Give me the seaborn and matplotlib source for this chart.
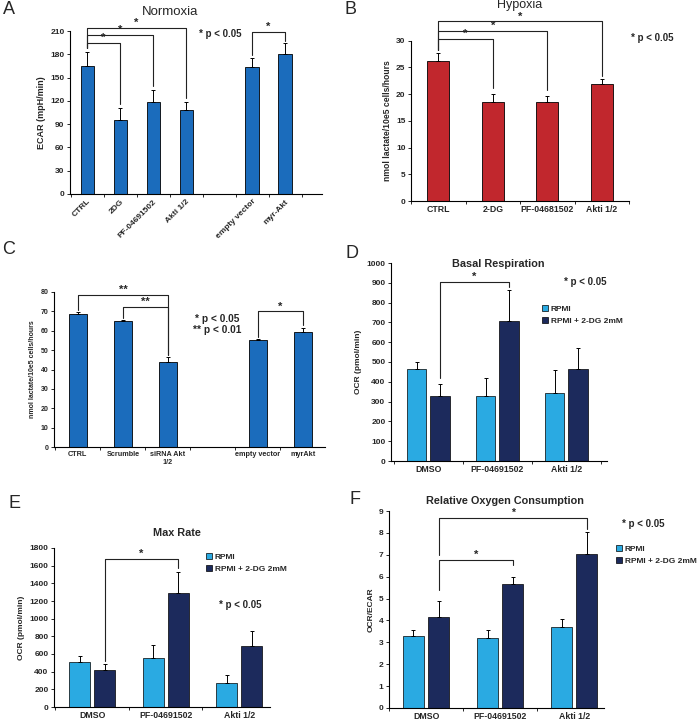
import numpy as np
import pandas as pd
import matplotlib
matplotlib.use("Agg")
import matplotlib.pyplot as plt
import matplotlib.patches as mpatches
import seaborn as sns

# ---------------- data ----------------
a_cats = ["CTRL", "2DG", "PF-04691502", "Akti 1/2", "empty vector", "myr-Akt"]
a_vals = [165, 95, 118, 108, 163, 180]
a_err = [18, 16, 16, 11, 12, 15]

b_cats = ["CTRL", "2-DG", "PF-04681502", "Akti 1/2"]
b_vals = [26.2, 18.5, 18.6, 21.9]
b_err = [1.5, 1.5, 1.0, 1.0]

c_cats = ["CTRL", "Scrumble", "siRNA Akt\n1/2", "empty vector", "myrAkt"]
c_vals = [68.8, 64.8, 44.0, 55.2, 59.2]
c_err = [0.7, 0.5, 2.3, 0.4, 2.1]

grp_cats = ["DMSO", "PF-04691502", "Akti 1/2"]
media = ["RPMI", "RPMI + 2-DG 2mM"]

d_rpmi = [465, 327, 343]
d_rpmi_err = [35, 93, 115]
d_2dg = [330, 705, 465]
d_2dg_err = [58, 160, 107]

e_rpmi = [505, 560, 275]
e_rpmi_err = [75, 140, 90]
e_2dg = [420, 1290, 695]
e_2dg_err = [70, 240, 165]

f_rpmi = [3.30, 3.22, 3.72]
f_rpmi_err = [0.27, 0.35, 0.33]
f_2dg = [4.15, 5.65, 7.02]
f_2dg_err = [0.72, 0.33, 1.03]

# ---------------- style ----------------
sns.set_style("ticks")
plt.rcParams["font.family"] = ["Liberation Sans", "DejaVu Sans"]
plt.rcParams["font.weight"] = "bold"
plt.rcParams["axes.labelweight"] = "bold"

BLUE = "#1b6cbc"
RED = "#c1272d"
LIGHT = "#2aaae2"
DARK = "#1c2a5c"

W, H = 700, 728
fig = plt.figure(figsize=(7, 7.28), dpi=100)


def ax_at(x0, x1, ytop, ybot):
    return fig.add_axes([x0 / W, 1 - ybot / H, (x1 - x0) / W, (ybot - ytop) / H])


def ftext(x, y, s, **kw):
    fig.text(x / W, 1 - y / H, s, **kw)


def style(ax, xlim, ylim, yticks, ylabel, ylab_fs=6, ytick_fs=6, xtick_fs=6):
    sns.despine(ax=ax)
    for s in ["left", "bottom"]:
        ax.spines[s].set_linewidth(0.8)
        ax.spines[s].set_color("black")
    ax.set_xlim(*xlim)
    ax.set_ylim(*ylim)
    ax.set_yticks(yticks)
    ax.tick_params(axis="y", length=2.5, width=0.7, labelsize=ytick_fs, pad=1.5)
    ax.tick_params(axis="x", which="major", length=0, labelsize=xtick_fs, pad=3)
    bnds = np.arange(np.ceil(xlim[0] - 0.5) + 0.5, xlim[1] + 0.01, 1.0)
    ax.set_xticks(bnds, minor=True)
    ax.tick_params(axis="x", which="minor", length=2.5, width=0.7)
    ax.set_xlabel("")
    ax.set_ylabel(ylabel, fontsize=ylab_fs, fontweight="bold", labelpad=3)
    for t in ax.get_xticklabels() + ax.get_yticklabels():
        t.set_fontweight("bold")


def simple_panel(ax, cats, vals, errs, order, color):
    df = pd.DataFrame({"cat": cats, "val": vals})
    sns.barplot(data=df, x="cat", y="val", order=order, color=color, width=0.4,
                edgecolor="black", linewidth=0.6, errorbar=None, saturation=1, ax=ax)
    xs = [order.index(c) for c in cats]
    ax.errorbar(xs, vals, yerr=[np.zeros(len(vals)), errs], fmt="none", ecolor="black",
                elinewidth=0.7, capsize=1.5, capthick=0.7)
    return xs


def group_panel(ax, v1, e1, v2, e2):
    df = pd.DataFrame({"cat": grp_cats * 2,
                       "medium": [media[0]] * 3 + [media[1]] * 3,
                       "val": v1 + v2})
    sns.barplot(data=df, x="cat", y="val", hue="medium", order=grp_cats, hue_order=media,
                palette=[LIGHT, DARK], width=0.68, gap=0.17, edgecolor="black",
                linewidth=0.5, errorbar=None, saturation=1, legend=False, ax=ax)
    pos = {}
    for h, (cont, vals, errs) in enumerate(zip(ax.containers, [v1, v2], [e1, e2])):
        xs = {}
        for bar in cont:
            cx = bar.get_x() + bar.get_width() / 2
            xs[int(round(cx))] = cx
        xl = [xs[i] for i in range(len(vals))]
        ax.errorbar(xl, vals, yerr=[np.zeros(len(vals)), errs], fmt="none", ecolor="black",
                    elinewidth=0.7, capsize=1.5, capthick=0.7)
        for i in range(len(vals)):
            pos[(h, i)] = xl[i]
    return pos


def bracket(ax, x1, x2, y, y1end, y2end, star="*", sx=None, fs=8, color="#222222"):
    ax.plot([x1, x1, x2, x2], [y1end, y, y, y2end], color=color, lw=0.8, clip_on=False)
    if sx is None:
        sx = (x1 + x2) / 2
    ax.text(sx, y, star, ha="center", va="bottom", fontsize=fs, fontweight="bold",
            clip_on=False)


def legend_at(x, y):
    handles = [mpatches.Patch(facecolor=LIGHT, edgecolor="black", linewidth=0.5),
               mpatches.Patch(facecolor=DARK, edgecolor="black", linewidth=0.5)]
    fig.legend(handles, media, loc="upper left", bbox_to_anchor=(x / W, 1 - y / H),
               bbox_transform=fig.transFigure, frameon=False, handlelength=0.75,
               handleheight=0.75, handletextpad=0.3, labelspacing=0.5, borderpad=0,
               borderaxespad=0, prop=dict(weight="bold", size=6))


# ---------------- Panel A ----------------
axA = ax_at(70, 322, 31, 194)
orderA = a_cats[:4] + [" "] + a_cats[4:]
xa = simple_panel(axA, a_cats, a_vals, a_err, orderA, BLUE)
style(axA, (-0.52, 7.12), (0, 210), np.arange(0, 211, 30), "ECAR (mpH/min)",
      ylab_fs=6.5)
axA.set_xticks(range(len(orderA)))
axA.set_xticklabels(orderA, rotation=45, ha="right", rotation_mode="anchor",
                    fontsize=6, fontweight="bold")
bracket(axA, 0, 1, 195, 188, 116)
bracket(axA, 0, 2, 205, 188, 139)
bracket(axA, 0, 3, 213.5, 188, 124)
bracket(axA, 5, 6, 209, 179, 197)
ftext(9, 9, "A", fontsize=13, fontweight="normal", ha="center", va="center")
ftext(170, 12, "Normoxia", fontsize=9.5, fontweight="normal", ha="center", va="center")
ftext(220, 34, "* p < 0.05", fontsize=7, fontweight="bold", ha="center", va="center")

# ---------------- Panel B ----------------
axB = ax_at(411, 629, 40.7, 201)
simple_panel(axB, b_cats, b_vals, b_err, b_cats, RED)
style(axB, (-0.5, 3.5), (0, 30), np.arange(0, 31, 5), "nmol lactate/10e5 cells/hours",
      ylab_fs=6.2, xtick_fs=6.3)
bracket(axB, 0, 1, 30.3, 28.3, 21.2)
bracket(axB, 0, 2, 31.9, 28.3, 20.8)
bracket(axB, 0, 3, 33.6, 28.3, 23.4)
ftext(350, 9, "B", fontsize=13, fontweight="normal", ha="center", va="center")
ftext(520, 5, "Hypoxia", fontsize=9, fontweight="normal", ha="center", va="center")
ftext(652, 38, "* p < 0.05", fontsize=7, fontweight="bold", ha="center", va="center")

# ---------------- Panel C ----------------
axC = ax_at(54, 325, 292, 447)
orderC = c_cats[:3] + [" "] + c_cats[3:]
simple_panel(axC, c_cats, c_vals, c_err, orderC, BLUE)
style(axC, (-0.53, 5.49), (0, 80), np.arange(0, 81, 10), "nmol lactate/10e5 cells/hours",
      ylab_fs=5, ytick_fs=5, xtick_fs=5.2)
bracket(axC, 0, 2, 78.4, 70.5, 47.5, star="**")
bracket(axC, 1, 2, 72.2, 66.5, 47.5, star="**")
bracket(axC, 4, 5, 70.0, 56.8, 62.8)
ftext(9, 249, "C", fontsize=13, fontweight="normal", ha="center", va="center")
ftext(195, 319, "* p < 0.05", fontsize=7.3, fontweight="bold", ha="left", va="center")
ftext(193, 330, "** p < 0.01", fontsize=7.3, fontweight="bold", ha="left", va="center")

# ---------------- Panel D ----------------
axD = ax_at(391, 607, 263, 461)
pD = group_panel(axD, d_rpmi, d_rpmi_err, d_2dg, d_2dg_err)
style(axD, (-0.54, 2.59), (0, 1000), np.arange(0, 1001, 100), "OCR (pmol/min)",
      xtick_fs=6.3)
bracket(axD, pD[(1, 0)], pD[(1, 1)], 905, 420, 880)
ftext(352, 254, "D", fontsize=13, fontweight="normal", ha="center", va="center")
ftext(498, 264, "Basal Respiration", fontsize=7.8, fontweight="bold", ha="center", va="center")
ftext(585, 282, "* p < 0.05", fontsize=7, fontweight="bold", ha="center", va="center")
legend_at(542, 305)

# ---------------- Panel E ----------------
axE = ax_at(54, 270, 548, 707)
pE = group_panel(axE, e_rpmi, e_rpmi_err, e_2dg, e_2dg_err)
style(axE, (-0.52, 2.42), (0, 1800), np.arange(0, 1801, 200), "OCR (pmol/min)",
      xtick_fs=6.3)
bracket(axE, pE[(1, 0)], pE[(1, 1)], 1675, 520, 1570)
ftext(14, 504, "E", fontsize=13, fontweight="normal", ha="center", va="center")
ftext(177, 533, "Max Rate", fontsize=7.8, fontweight="bold", ha="center", va="center")
ftext(240, 605, "* p < 0.05", fontsize=7, fontweight="bold", ha="center", va="center")
legend_at(206, 553)

# ---------------- Panel F ----------------
axF = ax_at(389, 604, 511, 708)
pF = group_panel(axF, f_rpmi, f_rpmi_err, f_2dg, f_2dg_err)
style(axF, (-0.5, 2.4), (0, 9), np.arange(0, 10, 1), "OCR/ECAR", xtick_fs=6.3)
bracket(axF, pF[(1, 0)], pF[(1, 2)], 8.68, 7.0, 8.2, fs=7.5)
bracket(axF, pF[(1, 0)], pF[(1, 1)], 6.76, 5.4, 6.55)
ftext(355, 499, "F", fontsize=13, fontweight="normal", ha="center", va="center")
ftext(505, 501, "Relative Oxygen Consumption", fontsize=7.8, fontweight="bold",
      ha="center", va="center")
ftext(643, 524, "* p < 0.05", fontsize=7, fontweight="bold", ha="center", va="center")
legend_at(616, 545)

fig.savefig("out.png", dpi=100)
